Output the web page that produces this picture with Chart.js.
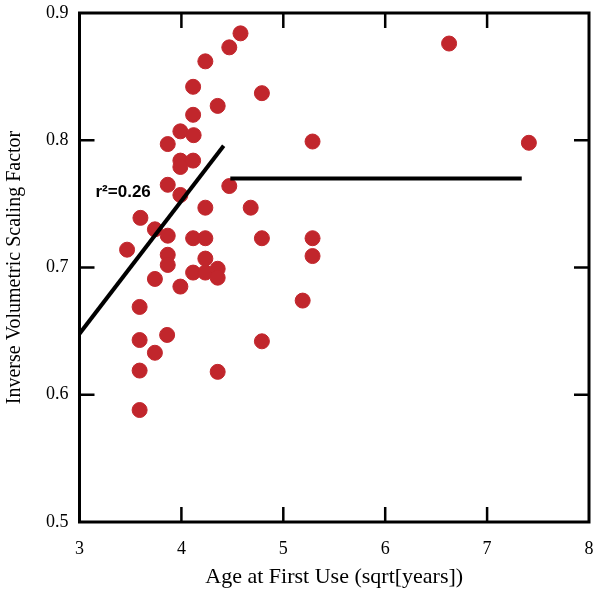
<!DOCTYPE html>
<html lang="en">
<head>
    <meta charset="UTF-8">
    <title>Inverse Volumetric Scaling Factor vs Age at First Use</title>
    <script src="https://cdn.jsdelivr.net/npm/chart.js"></script>
    <style>
        body { margin: 0; background: #fff; }
        #wrap { width: 600px; height: 594px; }
    </style>
</head>
<body>
    <div id="wrap"><canvas id="scatterChart"></canvas></div>

    <script>
        // Subject values
        const ageX = [4.58, 4.47, 4.235, 4.115, 4.79, 4.356, 4.115, 3.99, 4.12, 3.866,
                      5.287, 3.99, 3.99, 4.115, 3.866, 3.99, 4.47, 4.235, 4.68, 3.598,
                      3.74, 3.866, 4.115, 4.235, 4.79, 5.287, 3.467, 3.866, 3.866, 4.235,
                      5.287, 4.115, 4.235, 4.356, 4.356, 3.74, 3.99, 3.59, 5.19, 3.86,
                      3.59, 4.79, 3.74, 3.59, 4.356, 3.59, 6.627, 7.41];
        const scaleY = [0.884, 0.873, 0.862, 0.842, 0.837, 0.827, 0.820, 0.807, 0.804, 0.797,
                        0.799, 0.784, 0.779, 0.784, 0.765, 0.757, 0.764, 0.747, 0.747, 0.739,
                        0.730, 0.725, 0.723, 0.723, 0.723, 0.723, 0.714, 0.710, 0.702, 0.707,
                        0.709, 0.696, 0.696, 0.699, 0.692, 0.691, 0.685, 0.669, 0.674, 0.647,
                        0.643, 0.642, 0.633, 0.619, 0.618, 0.588, 0.876, 0.798];

        // Piecewise fit segments
        const fitLowX = [3.0, 4.415];
        const fitLowY = [0.648, 0.7957];
        const fitHighX = [4.48, 7.34];
        const fitHighY = [0.770, 0.770];

        const fitLabel = 'r\u00B2=0.26';
        const fitLabelAt = [3.157, 0.759];

        const xTicks = [3, 4, 5, 6, 7, 8];
        const yTicks = [0.5, 0.6, 0.7, 0.8, 0.9];

        const toPoints = (xs, ys) => xs.map((x, i) => ({ x: x, y: ys[i] }));

        // Frame, inward tick marks and the r² note
        const framePlugin = {
            id: 'frame',
            afterDatasetsDraw(chart) {
                const ctx = chart.ctx;
                const a = chart.chartArea;
                const xs = chart.scales.x, ys = chart.scales.y;
                const len = 15;
                ctx.save();
                ctx.strokeStyle = '#000';
                ctx.lineWidth = 3;
                ctx.strokeRect(a.left, a.top, a.right - a.left, a.bottom - a.top);
                ctx.lineWidth = 2.5;
                ctx.beginPath();
                xTicks.slice(1, -1).forEach(v => {
                    const px = xs.getPixelForValue(v);
                    ctx.moveTo(px, a.bottom); ctx.lineTo(px, a.bottom - len);
                    ctx.moveTo(px, a.top); ctx.lineTo(px, a.top + len);
                });
                yTicks.slice(1, -1).forEach(v => {
                    const py = ys.getPixelForValue(v);
                    ctx.moveTo(a.left, py); ctx.lineTo(a.left + len, py);
                    ctx.moveTo(a.right, py); ctx.lineTo(a.right - len, py);
                });
                ctx.stroke();

                ctx.fillStyle = '#000';
                ctx.font = 'bold 17px "Liberation Sans", Arial, sans-serif';
                ctx.textBaseline = 'middle';
                ctx.fillText(fitLabel, xs.getPixelForValue(fitLabelAt[0]), ys.getPixelForValue(fitLabelAt[1]));
                ctx.restore();
            }
        };

        const serif = '"Liberation Serif", "Times New Roman", serif';

        const ctx = document.getElementById('scatterChart').getContext('2d');
        const scatterChart = new Chart(ctx, {
            type: 'scatter',
            data: {
                datasets: [{
                    label: 'Subjects',
                    data: toPoints(ageX, scaleY),
                    backgroundColor: '#c1262c',
                    borderColor: '#c1262c',
                    pointRadius: 7.5,
                    pointHoverRadius: 7.5,
                    order: 2
                }, {
                    label: 'Fit (early)',
                    type: 'line',
                    data: toPoints(fitLowX, fitLowY),
                    borderColor: '#000',
                    borderWidth: 4,
                    pointRadius: 0,
                    fill: false,
                    order: 1
                }, {
                    label: 'Fit (late)',
                    type: 'line',
                    data: toPoints(fitHighX, fitHighY),
                    borderColor: '#000',
                    borderWidth: 4,
                    pointRadius: 0,
                    fill: false,
                    order: 1
                }]
            },
            options: {
                responsive: true,
                maintainAspectRatio: false,
                animation: false,
                layout: { padding: { top: 13, right: 11, left: 3, bottom: 4 } },
                plugins: {
                    legend: { display: false },
                    tooltip: { enabled: false }
                },
                scales: {
                    x: {
                        type: 'linear',
                        min: 3,
                        max: 8,
                        // invisible tick length gives the label gap (padding is counted twice)
                        grid: { display: false, drawTicks: true, tickLength: 16 },
                        border: { display: false },
                        afterBuildTicks: s => { s.ticks = xTicks.map(v => ({ value: v })); },
                        ticks: {
                            color: '#000',
                            padding: 0,
                            font: { family: serif, size: 18 },
                            callback: v => String(v)
                        },
                        title: {
                            display: true,
                            text: 'Age at First Use (sqrt[years])',
                            color: '#000',
                            font: { family: serif, size: 22 },
                            padding: { top: 4, bottom: 0 }
                        }
                    },
                    y: {
                        type: 'linear',
                        min: 0.5,
                        max: 0.9,
                        grid: { display: false, drawTicks: true, tickLength: 11 },
                        border: { display: false },
                        afterBuildTicks: s => { s.ticks = yTicks.map(v => ({ value: v })); },
                        ticks: {
                            color: '#000',
                            padding: 0,
                            font: { family: serif, size: 18 },
                            callback: v => Number(v).toFixed(1)
                        },
                        title: {
                            display: true,
                            text: 'Inverse Volumetric Scaling Factor',
                            color: '#000',
                            font: { family: serif, size: 20 },
                            padding: { top: 0, bottom: 19 }
                        }
                    }
                }
            },
            plugins: [framePlugin]
        });
    </script>
</body>
</html>
